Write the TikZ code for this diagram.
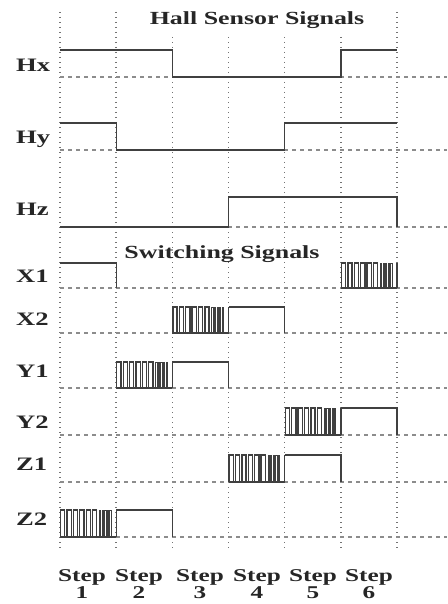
\documentclass[tikz,border=0pt]{standalone}
\usepackage{fontspec}
\newfontfamily\sigfont[FakeStretch=1.4]{Liberation Serif}

% pulse train over one step: #1 step index, #2 low level, #3 high level
\newcommand{\chopped}[3]{%
    \pgfmathsetmacro{\xs}{\xo+#1*\w}
    \draw[signal] (\xs,#2) -- ({\xs+\w},#2);
    \foreach \i in {0,...,5} {
        \draw[signal] ({\xs+0.6+6.4*\i},#2) |- ({\xs+4.8+6.4*\i},#3) -- ({\xs+4.8+6.4*\i},#2);
    }
    \foreach \j in {0,...,4} {
        \draw[signal, line width=0.9pt] ({\xs+39.5+2.6*\j},#2) |- ({\xs+40.8+2.6*\j},#3) -- ({\xs+40.8+2.6*\j},#2);
    }
    \draw[signal] ({\xs+\w},#2) -- ({\xs+\w},#3);
}

\begin{document}
\begin{tikzpicture}[x=1pt, y=-1pt,
    signal/.style={draw=black!75, line width=1.3pt},
    grid/.style={draw=black!55, line width=1.5pt, dash pattern=on 1.4pt off 3.6pt},
    base/.style={draw=black!45, line width=1.2pt, dash pattern=on 4pt off 4pt},
    lbl/.style={font=\sigfont\bfseries\fontsize{19}{22}\selectfont, text=black!85, inner sep=0pt},
    title/.style={font=\sigfont\bfseries\fontsize{18.5}{22}\selectfont, text=black!85, inner sep=0pt, anchor=base},
    steplbl/.style={font=\sigfont\bfseries\fontsize{18}{17}\selectfont, text=black!85, inner sep=0pt, align=center, anchor=north}]

    \useasboundingbox (0,0) rectangle (447,604);

    % Define parameters
    \def\xo{60}     % left edge of step 1
    \def\w{56.17}   % width of one step

    % Step boundaries
    \foreach \k/\top in {0/12,1/12,2/37,3/37,4/37,5/37,6/12} {
        \draw[grid] ({\xo+\k*\w},\top) -- ({\xo+\k*\w},548);
    }

    % Zero lines and signal names
    \foreach \name/\lo/\ly in {Hx/77/72, Hy/150/143, Hz/227/215, X1/288/282, X2/333/325,
                               Y1/388/377, Y2/435/428, Z1/482/470, Z2/537/525} {
        \draw[base] (\xo,\lo) -- (447,\lo);
        \node[lbl, anchor=base west] (lbl\name) at (16,\ly) {\name};
    }

    % Titles
    \node[title] (hall) at (257,25) {Hall Sensor Signals};
    \node[title] (switching) at (222,258) {Switching Signals};

    % Hall sensor signals
    \draw[signal] (\xo,50) -- ({\xo+2*\w},50) -- ({\xo+2*\w},77) -- ({\xo+5*\w},77)
        -- ({\xo+5*\w},50) -- ({\xo+6*\w},50);
    \draw[signal] (\xo,123) -- ({\xo+\w},123) -- ({\xo+\w},150) -- ({\xo+4*\w},150)
        -- ({\xo+4*\w},123) -- ({\xo+6*\w},123);
    \draw[signal] (\xo,227) -- ({\xo+3*\w},227) -- ({\xo+3*\w},197) -- ({\xo+6*\w},197)
        -- ({\xo+6*\w},227);

    % Switching signals
    \draw[signal] (\xo,263) -- ({\xo+\w},263) -- ({\xo+\w},288);
    \chopped{5}{288}{263}

    \chopped{2}{333}{307}
    \draw[signal] ({\xo+3*\w},307) -- ({\xo+4*\w},307) -- ({\xo+4*\w},333);

    \chopped{1}{388}{362}
    \draw[signal] ({\xo+2*\w},362) -- ({\xo+3*\w},362) -- ({\xo+3*\w},388);

    \chopped{4}{435}{408}
    \draw[signal] ({\xo+5*\w},408) -- ({\xo+6*\w},408) -- ({\xo+6*\w},435);

    \chopped{3}{482}{455}
    \draw[signal] ({\xo+4*\w},455) -- ({\xo+5*\w},455) -- ({\xo+5*\w},482);

    \chopped{0}{537}{510}
    \draw[signal] ({\xo+\w},510) -- ({\xo+2*\w},510) -- ({\xo+2*\w},537);

    % Step numbers
    \foreach \k/\xc in {1/82,2/139,3/200,4/257,5/313,6/369} {
        \node[steplbl] (step\k) at (\xc,569) {Step\\\k};
    }

\end{tikzpicture}
\end{document}
